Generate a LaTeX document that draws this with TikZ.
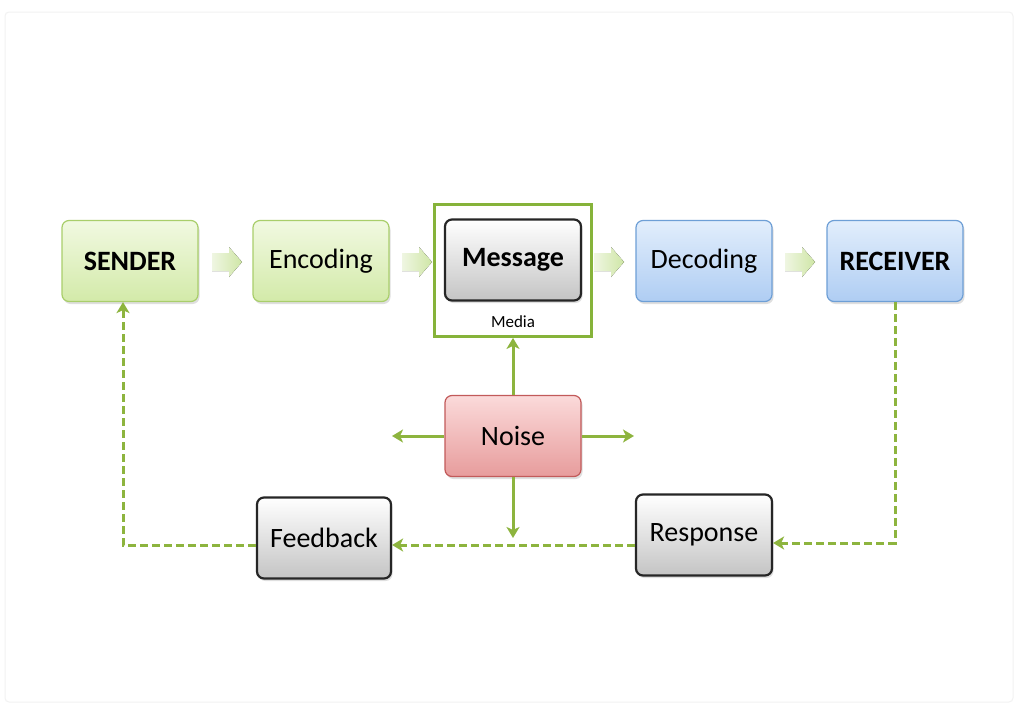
\documentclass[tikz,border=0pt]{standalone}
\usepackage{fontspec}
\setmainfont{Carlito}
\usetikzlibrary{arrows.meta,shadows,calc}
\definecolor{lineg}{HTML}{8DB43E}
\definecolor{frameg}{HTML}{86B33A}
\definecolor{gtop}{HTML}{F1F9E1}
\definecolor{gbot}{HTML}{D3EAA9}
\definecolor{gbor}{HTML}{A9CE6B}
\definecolor{btop}{HTML}{E2EEFC}
\definecolor{bbot}{HTML}{AFCDF3}
\definecolor{bbor}{HTML}{6E9FD6}
\definecolor{rtop}{HTML}{FBDADA}
\definecolor{rbot}{HTML}{E79C9C}
\definecolor{rbor}{HTML}{C25A5A}
\definecolor{abot}{HTML}{C4C4C4}
\definecolor{arl}{HTML}{EFF6E2}
\definecolor{arr}{HTML}{CFE6A6}
\tikzset{
  box/.style={rounded corners=7pt, minimum width=136pt, minimum height=81pt,
    inner sep=0pt, font=\fontsize{28}{32}\selectfont,
    drop shadow={opacity=0.25, shadow xshift=1.5pt, shadow yshift=-2.5pt}},
  greenbox/.style={box, draw=gbor, line width=1.2pt, top color=gtop, bottom color=gbot},
  bluebox/.style={box, draw=bbor, line width=1.2pt, top color=btop, bottom color=bbot},
  redbox/.style={box, draw=rbor, line width=1.2pt, top color=rtop, bottom color=rbot},
  graybox/.style={box, draw=black!85, line width=2.2pt, top color=white, bottom color=abot},
  conn/.style={draw=lineg, line width=3pt, -{Stealth[length=11pt,width=13pt,inset=3pt]}},
  dconn/.style={conn, dash pattern=on 8pt off 4pt},
  barrow/.pic={\fill[left color=arl, right color=arr]
     (-15,-9) -- (2,-9) -- (2,-15) -- (15,0) -- (2,15) -- (2,9) -- (-15,9) -- cycle;}
}
\begin{document}
\begin{tikzpicture}[x=1pt,y=-1pt]
\useasboundingbox (0,0) rectangle (1018,707);
\fill[white] (0,0) rectangle (1018,707);
\draw[black!5, line width=1pt, rounded corners=4pt] (5,12) rectangle (1013,702);

\node[draw=frameg, line width=2.8pt, minimum width=157pt, minimum height=132pt, inner sep=0pt] (media) at (513,270.5) {};
\node[font=\fontsize{17}{19}\selectfont] (medialabel) at (513,322) {Media};

\node[greenbox] (sender) at (130,261) {\textbf{SENDER}};
\node[greenbox] (encoding) at (321,261) {Encoding};
\node[graybox] (message) at (513,260) {\textbf{Message}};
\node[bluebox] (decoding) at (704,261) {Decoding};
\node[bluebox] (receiver) at (895,261) {\textbf{RECEIVER}};
\node[redbox] (noise) at (513,436) {Noise};
\node[graybox, minimum width=134pt] (feedback) at (324,538) {Feedback};
\node[graybox] (response) at (704,535) {Response};

\pic at (227,262) {barrow};
\pic at (417,262) {barrow};
\pic at (609,262) {barrow};
\pic at (800,262) {barrow};

\coordinate (nl) at (392,436);
\coordinate (nr) at (634,436);
\coordinate (nd) at (513,538);
\draw[conn] (noise.north) -- (media.south);
\draw[conn] (noise.west) -- (nl);
\draw[conn] (noise.east) -- (nr);
\draw[conn] (noise.south) -- (nd);

\coordinate (rc) at (895,543);
\coordinate (sc) at (123,545);
\draw[dconn] (receiver.south) -- (rc) -- (response.east |- rc);
\draw[dconn] (response.west |- 0,545) -- (feedback.east |- 0,545);
\draw[dconn] (feedback.west |- sc) -- (sc) -- (sc |- sender.south);
\end{tikzpicture}
\end{document}
